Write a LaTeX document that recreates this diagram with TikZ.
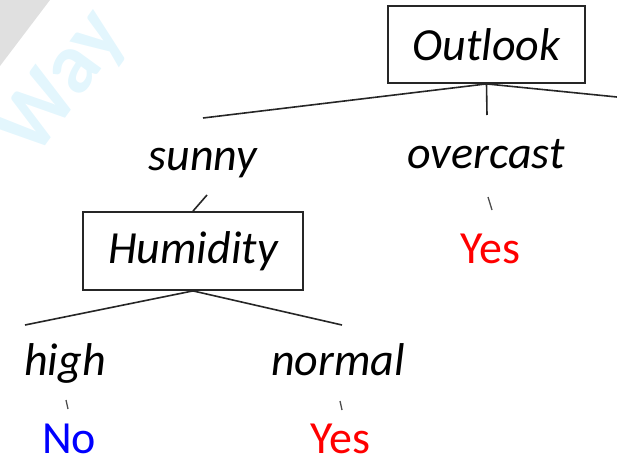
\documentclass[tikz,border=0pt]{standalone}
\usepackage{fontspec}
\setmainfont{Carlito}
\begin{document}
\begin{tikzpicture}[x=1pt,y=-1pt,
  lbl/.style={font=\fontsize{46}{50}\selectfont\itshape, inner sep=0pt, anchor=base},
  leaf/.style={font=\fontsize{46}{50}\selectfont, inner sep=0pt, anchor=base},
  attr/.style={draw=black!85, line width=1.8pt, inner sep=0pt, font=\fontsize{46}{50}\selectfont\itshape},
  edge/.style={draw=black!85, line width=1.6pt},
  tick/.style={draw=black!70, line width=1.3pt}]
\useasboundingbox (0,0) rectangle (617,468);
% watermark remnants
\fill[black!12] (0,0) -- (50,0) -- (0,66) -- cycle;
\node[font=\fontsize{86}{90}\selectfont\bfseries, text=cyan!11, rotate=54, inner sep=0pt] (wm) at (64,84) {Way};
% decision nodes
\node[attr, minimum width=197pt, minimum height=77pt] (outlook) at (486.5,44.5) {Outlook};
\node[attr, minimum width=220pt, minimum height=78pt] (humidity) at (193,251) {Humidity};
% branch labels
\node[lbl] (sunny) at (203,170) {sunny};
\node[lbl] (overcast) at (486,168) {overcast};
\node[lbl] (high) at (65,375) {high};
\node[lbl] (normal) at (338,375) {normal};
% leaves
\node[leaf, text=red] (yes1) at (490,263) {Yes};
\node[leaf, text=blue] (no) at (69,453) {No};
\node[leaf, text=red] (yes2) at (340,453) {Yes};
% connector end points
\coordinate (oL) at (203,118);
\coordinate (oC) at (487,115);
\coordinate (oR) at (617,97);
\coordinate (sT) at (207,195);
\coordinate (hL) at (25,325);
\coordinate (hR) at (342,325);
\coordinate (t1a) at (488,197);
\coordinate (t1b) at (492,210);
\coordinate (t2a) at (66,400);
\coordinate (t2b) at (68,409);
\coordinate (t3a) at (340,401);
\coordinate (t3b) at (342,410);
% connectors
\draw[edge] (outlook.south) -- (oL);
\draw[edge] (outlook.south) -- (oC);
\draw[edge] (outlook.south) -- (oR);
\draw[edge] (sT) -- (humidity.north);
\draw[edge] (humidity.south) -- (hL);
\draw[edge] (humidity.south) -- (hR);
\draw[tick] (t1a) -- (t1b);
\draw[tick] (t2a) -- (t2b);
\draw[tick] (t3a) -- (t3b);
\end{tikzpicture}
\end{document}
